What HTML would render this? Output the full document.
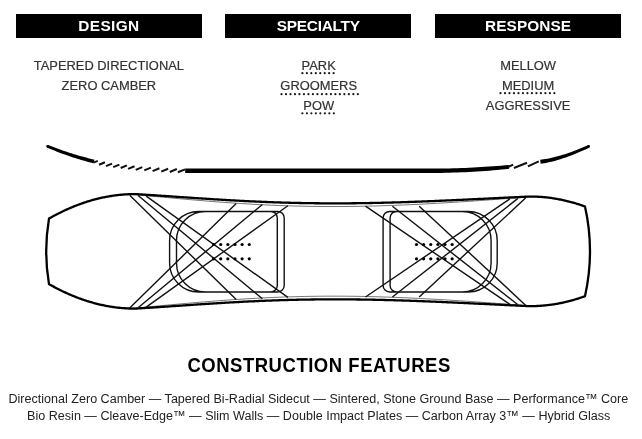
<!DOCTYPE html>
<html><head><meta charset="utf-8"><style>
*{margin:0;padding:0;box-sizing:border-box}
html,body{width:642px;height:439px;background:#fff;overflow:hidden}
body{position:relative;font-family:"Liberation Sans",sans-serif;color:#2a2a2a}
.bar{position:absolute;top:14.3px;height:23.6px;background:#000}
.t{position:absolute;text-align:center;line-height:20px;height:20px;white-space:nowrap;transform-origin:50% 0}
.u{display:inline-block;position:relative}
</style></head><body style="filter:blur(0.4px)">
<div class="bar" style="left:15.5px;width:186.5px"></div>
<div class="bar" style="left:225.4px;width:186px"></div>
<div class="bar" style="left:435.1px;width:186px"></div>
<svg width="642" height="439" viewBox="0 0 642 439" style="position:absolute;left:0;top:0">
<g fill="#000"><path d="M47.07,147.59 L49.04,148.43 L51.01,149.25 L52.99,150.06 L54.98,150.85 L56.97,151.63 L58.96,152.40 L60.96,153.15 L62.96,153.89 L64.97,154.61 L66.98,155.33 L69.00,156.02 L71.02,156.71 L73.05,157.38 L75.08,158.04 L77.11,158.68 L79.15,159.31 L81.20,159.93 L83.24,160.53 L85.30,161.12 L87.35,161.70 L89.41,162.26 L91.48,162.81 L93.54,163.34 L94.46,159.66 L92.39,159.17 L90.34,158.67 L88.29,158.15 L86.25,157.62 L84.21,157.08 L82.17,156.53 L80.14,155.96 L78.11,155.38 L76.08,154.78 L74.06,154.17 L72.05,153.55 L70.03,152.91 L68.02,152.26 L66.02,151.60 L64.01,150.92 L62.02,150.23 L60.02,149.52 L58.03,148.80 L56.04,148.07 L54.06,147.33 L52.08,146.57 L50.11,145.79 L48.13,145.01 Z"/><path d="M185.20,173.00 L189.20,173.00 L193.20,173.00 L197.20,173.00 L201.20,173.00 L205.20,173.00 L209.20,173.00 L213.20,173.00 L217.20,173.00 L221.20,173.00 L225.20,173.00 L229.20,173.00 L233.20,173.00 L237.20,173.00 L241.20,173.00 L245.20,173.00 L249.20,173.00 L253.20,173.00 L257.20,173.00 L261.20,173.00 L265.20,173.00 L269.20,173.00 L273.20,173.00 L277.20,173.00 L281.20,173.00 L285.20,173.00 L289.20,173.00 L293.20,173.00 L297.20,173.00 L301.20,173.00 L305.20,173.00 L309.20,173.00 L313.20,173.00 L317.20,173.00 L321.20,173.00 L325.20,173.00 L329.20,173.00 L333.20,173.00 L337.20,173.00 L341.20,173.00 L345.20,173.00 L349.20,173.00 L353.20,173.00 L357.20,173.00 L361.20,173.00 L365.20,173.00 L369.20,173.00 L373.20,173.00 L377.20,173.00 L381.20,173.00 L385.20,173.00 L389.20,173.00 L393.20,173.00 L397.20,173.00 L401.20,173.00 L405.20,173.00 L409.20,173.00 L413.20,173.00 L417.20,173.00 L421.20,173.00 L425.20,173.00 L429.20,173.00 L433.21,172.99 L437.22,172.97 L441.23,172.92 L445.24,172.84 L449.25,172.74 L453.26,172.61 L457.27,172.47 L461.28,172.31 L465.29,172.13 L469.30,171.93 L473.31,171.71 L477.32,171.47 L481.33,171.21 L485.34,170.93 L489.35,170.63 L493.36,170.30 L497.37,169.96 L501.38,169.60 L505.38,169.22 L509.19,168.84 L508.81,164.96 L505.02,165.31 L501.02,165.66 L497.03,165.99 L493.04,166.30 L489.05,166.59 L485.06,166.86 L481.07,167.12 L477.08,167.35 L473.09,167.56 L469.10,167.75 L465.11,167.92 L461.12,168.07 L457.13,168.20 L453.14,168.31 L449.15,168.40 L445.16,168.47 L441.17,168.53 L437.18,168.57 L433.19,168.59 L429.20,168.60 L425.20,168.60 L421.20,168.60 L417.20,168.60 L413.20,168.60 L409.20,168.60 L405.20,168.60 L401.20,168.60 L397.20,168.60 L393.20,168.60 L389.20,168.60 L385.20,168.60 L381.20,168.60 L377.20,168.60 L373.20,168.60 L369.20,168.60 L365.20,168.60 L361.20,168.60 L357.20,168.60 L353.20,168.60 L349.20,168.60 L345.20,168.60 L341.20,168.60 L337.20,168.60 L333.20,168.60 L329.20,168.60 L325.20,168.60 L321.20,168.60 L317.20,168.60 L313.20,168.60 L309.20,168.60 L305.20,168.60 L301.20,168.60 L297.20,168.60 L293.20,168.60 L289.20,168.60 L285.20,168.60 L281.20,168.60 L277.20,168.60 L273.20,168.60 L269.20,168.60 L265.20,168.60 L261.20,168.60 L257.20,168.60 L253.20,168.60 L249.20,168.60 L245.20,168.60 L241.20,168.60 L237.20,168.60 L233.20,168.60 L229.20,168.60 L225.20,168.60 L221.20,168.60 L217.20,168.60 L213.20,168.60 L209.20,168.60 L205.20,168.60 L201.20,168.60 L197.20,168.60 L193.20,168.60 L189.20,168.60 L185.20,168.60 Z"/><path d="M540.65,163.74 L542.38,163.50 L544.16,163.21 L545.98,162.89 L547.83,162.52 L549.71,162.12 L551.62,161.67 L553.56,161.18 L555.54,160.65 L557.55,160.08 L559.59,159.47 L561.67,158.81 L563.78,158.12 L565.92,157.38 L568.09,156.61 L570.30,155.79 L572.54,154.93 L574.82,154.03 L577.13,153.09 L579.47,152.11 L581.85,151.09 L584.26,150.02 L586.70,148.92 L589.17,147.78 L588.03,145.22 L585.54,146.31 L583.10,147.35 L580.69,148.35 L578.32,149.31 L575.98,150.23 L573.68,151.10 L571.42,151.94 L569.19,152.73 L567.00,153.48 L564.85,154.19 L562.73,154.86 L560.64,155.49 L558.60,156.07 L556.59,156.62 L554.62,157.12 L552.68,157.58 L550.78,158.00 L548.92,158.38 L547.10,158.72 L545.31,159.02 L543.56,159.27 L541.85,159.49 L540.15,159.66 Z"/><path d="M47.60,146.30 m-1.40,0 a1.40,1.40 0 1 0 2.80,0 a1.40,1.40 0 1 0 -2.80,0"/><path d="M588.60,146.50 m-1.40,0 a1.40,1.40 0 1 0 2.80,0 a1.40,1.40 0 1 0 -2.80,0"/></g>
<path d="M99.04,164.72 L104.96,162.28 M105.98,166.05 L112.02,163.55 M113.21,167.18 L119.39,164.62 M120.65,168.00 L126.95,165.40 M128.08,168.93 L134.52,166.27 M135.72,169.86 L142.28,167.14 M144.26,170.39 L150.94,167.61 M152.59,171.11 L159.41,168.29 M161.23,171.64 L168.17,168.76 M169.76,171.97 L176.84,169.03 M177.90,172.29 L185.10,169.31 M513.9,168.0 L527.0,162.7 M527.9,166.4 L538.8,161.4 M93.5,162.6 L97.8,160.9 M508,167 L513.2,164.6" stroke="#111" stroke-width="2.0" fill="none" stroke-linecap="butt"/>
<path d="M125.00,194.43 L127.00,194.48 L129.00,194.50 L131.00,194.52 L133.00,194.57 L135.00,194.63 L137.00,194.82 L139.00,195.01 L141.00,195.19 L143.00,195.38 L145.00,195.56 L147.00,195.75 L149.00,195.93 L151.00,196.12 L153.00,196.30 L155.00,196.48 L157.00,196.67 L159.00,196.85 L161.00,197.03 L163.00,197.22 L165.00,197.40 L167.00,197.58 L169.00,197.76 L171.00,197.94 L173.00,198.12 L175.00,198.30 L177.00,198.48 L179.00,198.66 L181.00,198.84 L183.00,199.02 L185.00,199.19 L187.00,199.37 L189.00,199.54 L191.00,199.72 L193.00,199.89 L195.00,200.06 L197.00,200.23 L199.00,200.40 L201.00,200.56 L203.00,200.73 L205.00,200.89 L207.00,201.05 L209.00,201.21 L211.00,201.37 L213.00,201.53 L215.00,201.69 L217.00,201.84 L219.00,201.99 L221.00,202.14 L223.00,202.29 L225.00,202.44 L227.00,202.58 L229.00,202.72 L231.00,202.86 L233.00,203.00 L235.00,203.13 L237.00,203.27 L239.00,203.40 L241.00,203.53 L243.00,203.65 L245.00,203.78 L247.00,203.90 L249.00,204.02 L251.00,204.13 L253.00,204.25 L255.00,204.36 L257.00,204.47 L259.00,204.57 L261.00,204.68 L263.00,204.78 L265.00,204.87 L267.00,204.97 L269.00,205.06 L271.00,205.15 L273.00,205.24 L275.00,205.33 L277.00,205.41 L279.00,205.49 L281.00,205.56 L283.00,205.64 L285.00,205.71 L287.00,205.77 L289.00,205.84 L291.00,205.90 L293.00,205.96 L295.00,206.02 L297.00,206.07 L299.00,206.12 L301.00,206.17 L303.00,206.21 L305.00,206.26 L307.00,206.29 L309.00,206.33 L311.00,206.36 L313.00,206.40 L315.00,206.42 L317.00,206.45 L319.00,206.47 L321.00,206.49 L323.00,206.51 L325.00,206.52 L327.00,206.53 L329.00,206.54 L331.00,206.54 L333.00,206.54 L335.00,206.54 L337.00,206.54 L339.00,206.54 L341.00,206.53 L343.00,206.51 L345.00,206.50 L347.00,206.48 L349.00,206.46 L351.00,206.44 L353.00,206.42 L355.00,206.39 L357.00,206.36 L359.00,206.33 L361.00,206.29 L363.00,206.25 L365.00,206.21 L367.00,206.17 L369.00,206.12 L371.00,206.08 L373.00,206.03 L375.00,205.97 L377.00,205.92 L379.00,205.86 L381.00,205.80 L383.00,205.74 L385.00,205.68 L387.00,205.61 L389.00,205.54 L391.00,205.47 L393.00,205.40 L395.00,205.32 L397.00,205.24 L399.00,205.16 L401.00,205.08 L403.00,205.00 L405.00,204.91 L407.00,204.83 L409.00,204.74 L411.00,204.64 L413.00,204.55 L415.00,204.46 L417.00,204.36 L419.00,204.26 L421.00,204.16 L423.00,204.06 L425.00,203.95 L427.00,203.85 L429.00,203.74 L431.00,203.63 L433.00,203.52 L435.00,203.41 L437.00,203.30 L439.00,203.18 L441.00,203.06 L443.00,202.95 L445.00,202.83 L447.00,202.71 L449.00,202.59 L451.00,202.46 L453.00,202.34 L455.00,202.21 L457.00,202.09 L459.00,201.96 L461.00,201.83 L463.00,201.70 L465.00,201.57 L467.00,201.43 L469.00,201.30 L471.00,201.16 L473.00,201.03 L475.00,200.89 L477.00,200.75 L479.00,200.62 L481.00,200.48 L483.00,200.34 L485.00,200.19 L487.00,200.05 L489.00,199.91 L491.00,199.76 L493.00,199.62 L495.00,199.47 L497.00,199.32 L499.00,199.18 L501.00,199.03 L503.00,198.88 L505.00,198.72 L507.00,198.57 L509.00,198.42 L511.00,198.26 L513.00,198.10 L515.00,197.94 L517.00,197.78 L519.00,197.61 L521.00,197.44 L523.00,197.27 L525.00,197.09 L527.00,196.90 L529.00,196.68 M125.00,308.27 L127.00,308.22 L129.00,308.20 L131.00,308.18 L133.00,308.13 L135.00,308.07 L137.00,307.88 L139.00,307.69 L141.00,307.51 L143.00,307.32 L145.00,307.14 L147.00,306.95 L149.00,306.77 L151.00,306.58 L153.00,306.40 L155.00,306.22 L157.00,306.03 L159.00,305.85 L161.00,305.67 L163.00,305.48 L165.00,305.30 L167.00,305.12 L169.00,304.94 L171.00,304.76 L173.00,304.58 L175.00,304.40 L177.00,304.22 L179.00,304.04 L181.00,303.86 L183.00,303.68 L185.00,303.51 L187.00,303.33 L189.00,303.16 L191.00,302.98 L193.00,302.81 L195.00,302.64 L197.00,302.47 L199.00,302.30 L201.00,302.14 L203.00,301.97 L205.00,301.81 L207.00,301.65 L209.00,301.49 L211.00,301.33 L213.00,301.17 L215.00,301.01 L217.00,300.86 L219.00,300.71 L221.00,300.56 L223.00,300.41 L225.00,300.26 L227.00,300.12 L229.00,299.98 L231.00,299.84 L233.00,299.70 L235.00,299.57 L237.00,299.43 L239.00,299.30 L241.00,299.17 L243.00,299.05 L245.00,298.92 L247.00,298.80 L249.00,298.68 L251.00,298.57 L253.00,298.45 L255.00,298.34 L257.00,298.23 L259.00,298.13 L261.00,298.02 L263.00,297.92 L265.00,297.83 L267.00,297.73 L269.00,297.64 L271.00,297.55 L273.00,297.46 L275.00,297.37 L277.00,297.29 L279.00,297.21 L281.00,297.14 L283.00,297.06 L285.00,296.99 L287.00,296.93 L289.00,296.86 L291.00,296.80 L293.00,296.74 L295.00,296.68 L297.00,296.63 L299.00,296.58 L301.00,296.53 L303.00,296.49 L305.00,296.44 L307.00,296.41 L309.00,296.37 L311.00,296.34 L313.00,296.30 L315.00,296.28 L317.00,296.25 L319.00,296.23 L321.00,296.21 L323.00,296.19 L325.00,296.18 L327.00,296.17 L329.00,296.16 L331.00,296.16 L333.00,296.16 L335.00,296.16 L337.00,296.16 L339.00,296.16 L341.00,296.17 L343.00,296.19 L345.00,296.20 L347.00,296.22 L349.00,296.24 L351.00,296.26 L353.00,296.28 L355.00,296.31 L357.00,296.34 L359.00,296.37 L361.00,296.41 L363.00,296.45 L365.00,296.49 L367.00,296.53 L369.00,296.58 L371.00,296.62 L373.00,296.67 L375.00,296.73 L377.00,296.78 L379.00,296.84 L381.00,296.90 L383.00,296.96 L385.00,297.02 L387.00,297.09 L389.00,297.16 L391.00,297.23 L393.00,297.30 L395.00,297.38 L397.00,297.46 L399.00,297.54 L401.00,297.62 L403.00,297.70 L405.00,297.79 L407.00,297.87 L409.00,297.96 L411.00,298.06 L413.00,298.15 L415.00,298.24 L417.00,298.34 L419.00,298.44 L421.00,298.54 L423.00,298.64 L425.00,298.75 L427.00,298.85 L429.00,298.96 L431.00,299.07 L433.00,299.18 L435.00,299.29 L437.00,299.40 L439.00,299.52 L441.00,299.64 L443.00,299.75 L445.00,299.87 L447.00,299.99 L449.00,300.11 L451.00,300.24 L453.00,300.36 L455.00,300.49 L457.00,300.61 L459.00,300.74 L461.00,300.87 L463.00,301.00 L465.00,301.13 L467.00,301.27 L469.00,301.40 L471.00,301.54 L473.00,301.67 L475.00,301.81 L477.00,301.95 L479.00,302.08 L481.00,302.22 L483.00,302.36 L485.00,302.51 L487.00,302.65 L489.00,302.79 L491.00,302.94 L493.00,303.08 L495.00,303.23 L497.00,303.38 L499.00,303.52 L501.00,303.67 L503.00,303.82 L505.00,303.98 L507.00,304.13 L509.00,304.28 L511.00,304.44 L513.00,304.60 L515.00,304.76 L517.00,304.92 L519.00,305.09 L521.00,305.26 L523.00,305.43 L525.00,305.61 L527.00,305.80 L529.00,306.02" fill="none" stroke="#777" stroke-width="1.0"/>
<path d="M49.00,218.58 L50.00,218.01 L51.00,217.45 L52.00,216.90 L53.00,216.35 L54.00,215.81 L55.00,215.28 L56.00,214.75 L57.00,214.23 L58.00,213.72 L59.00,213.22 L60.00,212.72 L61.00,212.22 L62.00,211.74 L63.00,211.26 L64.00,210.78 L65.00,210.32 L66.00,209.86 L67.00,209.40 L68.00,208.96 L69.00,208.51 L70.00,208.08 L71.00,207.65 L72.00,207.23 L73.00,206.82 L74.00,206.41 L75.00,206.01 L76.00,205.62 L77.00,205.23 L78.00,204.85 L79.00,204.48 L80.00,204.11 L81.00,203.75 L82.00,203.39 L83.00,203.05 L84.00,202.71 L85.00,202.37 L86.00,202.04 L87.00,201.72 L88.00,201.41 L89.00,201.10 L90.00,200.80 L91.00,200.50 L92.00,200.22 L93.00,199.94 L94.00,199.66 L95.00,199.39 L96.00,199.13 L97.00,198.88 L98.00,198.63 L99.00,198.39 L100.00,198.15 L101.00,197.92 L102.00,197.70 L103.00,197.49 L104.00,197.28 L105.00,197.08 L106.00,196.88 L107.00,196.69 L108.00,196.51 L109.00,196.33 L110.00,196.17 L111.00,196.00 L112.00,195.85 L113.00,195.70 L114.00,195.56 L115.00,195.42 L116.00,195.29 L117.00,195.17 L118.00,195.05 L119.00,194.94 L120.00,194.84 L121.00,194.75 L122.00,194.66 L123.00,194.57 L124.00,194.50 L125.00,194.43 L126.00,194.36 L127.00,194.31 L128.00,194.26 L129.00,194.22 L130.00,194.18 L131.00,194.15 L132.00,194.13 L133.00,194.11 L134.00,194.10 L135.00,194.10 L136.00,194.15 L137.00,194.21 L138.00,194.27 L139.00,194.33 L140.00,194.39 L141.00,194.45 L142.00,194.51 L143.00,194.57 L144.00,194.64 L145.00,194.70 L146.00,194.76 L147.00,194.82 L148.00,194.89 L149.00,194.95 L150.00,195.01 L151.00,195.08 L152.00,195.14 L153.00,195.21 L154.00,195.27 L155.00,195.34 L156.00,195.40 L157.00,195.47 L158.00,195.54 L159.00,195.60 L160.00,195.67 L161.00,195.73 L162.00,195.80 L163.00,195.87 L164.00,195.94 L165.00,196.00 L166.00,196.07 L167.00,196.14 L168.00,196.21 L169.00,196.27 L170.00,196.34 L171.00,196.41 L172.00,196.48 L173.00,196.55 L174.00,196.62 L175.00,196.68 L176.00,196.75 L177.00,196.82 L178.00,196.89 L179.00,196.96 L180.00,197.03 L181.00,197.09 L182.00,197.16 L183.00,197.23 L184.00,197.30 L185.00,197.37 L186.00,197.44 L187.00,197.50 L188.00,197.57 L189.00,197.64 L190.00,197.71 L191.00,197.77 L192.00,197.84 L193.00,197.91 L194.00,197.98 L195.00,198.04 L196.00,198.11 L197.00,198.18 L198.00,198.24 L199.00,198.31 L200.00,198.38 L201.00,198.44 L202.00,198.51 L203.00,198.57 L204.00,198.64 L205.00,198.70 L206.00,198.77 L207.00,198.83 L208.00,198.90 L209.00,198.96 L210.00,199.02 L211.00,199.09 L212.00,199.15 L213.00,199.21 L214.00,199.28 L215.00,199.34 L216.00,199.40 L217.00,199.46 L218.00,199.52 L219.00,199.58 L220.00,199.64 L221.00,199.70 L222.00,199.76 L223.00,199.82 L224.00,199.88 L225.00,199.94 L226.00,200.00 L227.00,200.06 L228.00,200.12 L229.00,200.17 L230.00,200.23 L231.00,200.29 L232.00,200.34 L233.00,200.40 L234.00,200.45 L235.00,200.51 L236.00,200.56 L237.00,200.62 L238.00,200.67 L239.00,200.72 L240.00,200.78 L241.00,200.83 L242.00,200.88 L243.00,200.93 L244.00,200.98 L245.00,201.03 L246.00,201.08 L247.00,201.13 L248.00,201.18 L249.00,201.23 L250.00,201.28 L251.00,201.33 L252.00,201.37 L253.00,201.42 L254.00,201.47 L255.00,201.51 L256.00,201.56 L257.00,201.60 L258.00,201.64 L259.00,201.69 L260.00,201.73 L261.00,201.77 L262.00,201.82 L263.00,201.86 L264.00,201.90 L265.00,201.94 L266.00,201.98 L267.00,202.02 L268.00,202.06 L269.00,202.09 L270.00,202.13 L271.00,202.17 L272.00,202.20 L273.00,202.24 L274.00,202.28 L275.00,202.31 L276.00,202.34 L277.00,202.38 L278.00,202.41 L279.00,202.44 L280.00,202.48 L281.00,202.51 L282.00,202.54 L283.00,202.57 L284.00,202.60 L285.00,202.63 L286.00,202.66 L287.00,202.68 L288.00,202.71 L289.00,202.74 L290.00,202.77 L291.00,202.79 L292.00,202.82 L293.00,202.84 L294.00,202.86 L295.00,202.89 L296.00,202.91 L297.00,202.93 L298.00,202.95 L299.00,202.98 L300.00,203.00 L301.00,203.02 L302.00,203.04 L303.00,203.05 L304.00,203.07 L305.00,203.09 L306.00,203.11 L307.00,203.12 L308.00,203.14 L309.00,203.15 L310.00,203.17 L311.00,203.18 L312.00,203.20 L313.00,203.21 L314.00,203.22 L315.00,203.23 L316.00,203.24 L317.00,203.26 L318.00,203.27 L319.00,203.27 L320.00,203.28 L321.00,203.29 L322.00,203.30 L323.00,203.31 L324.00,203.31 L325.00,203.32 L326.00,203.32 L327.00,203.33 L328.00,203.33 L329.00,203.34 L330.00,203.34 L331.00,203.34 L332.00,203.35 L333.00,203.35 L334.00,203.35 L335.00,203.35 L336.00,203.35 L337.00,203.35 L338.00,203.35 L339.00,203.34 L340.00,203.34 L341.00,203.34 L342.00,203.34 L343.00,203.33 L344.00,203.33 L345.00,203.32 L346.00,203.32 L347.00,203.31 L348.00,203.30 L349.00,203.30 L350.00,203.29 L351.00,203.28 L352.00,203.27 L353.00,203.26 L354.00,203.25 L355.00,203.24 L356.00,203.23 L357.00,203.22 L358.00,203.21 L359.00,203.19 L360.00,203.18 L361.00,203.17 L362.00,203.15 L363.00,203.14 L364.00,203.12 L365.00,203.11 L366.00,203.09 L367.00,203.08 L368.00,203.06 L369.00,203.04 L370.00,203.02 L371.00,203.00 L372.00,202.99 L373.00,202.97 L374.00,202.95 L375.00,202.93 L376.00,202.91 L377.00,202.88 L378.00,202.86 L379.00,202.84 L380.00,202.82 L381.00,202.79 L382.00,202.77 L383.00,202.75 L384.00,202.72 L385.00,202.70 L386.00,202.67 L387.00,202.65 L388.00,202.62 L389.00,202.59 L390.00,202.57 L391.00,202.54 L392.00,202.51 L393.00,202.48 L394.00,202.46 L395.00,202.43 L396.00,202.40 L397.00,202.37 L398.00,202.34 L399.00,202.31 L400.00,202.28 L401.00,202.25 L402.00,202.21 L403.00,202.18 L404.00,202.15 L405.00,202.12 L406.00,202.08 L407.00,202.05 L408.00,202.02 L409.00,201.98 L410.00,201.95 L411.00,201.91 L412.00,201.88 L413.00,201.84 L414.00,201.81 L415.00,201.77 L416.00,201.73 L417.00,201.70 L418.00,201.66 L419.00,201.62 L420.00,201.59 L421.00,201.55 L422.00,201.51 L423.00,201.47 L424.00,201.43 L425.00,201.39 L426.00,201.35 L427.00,201.31 L428.00,201.27 L429.00,201.23 L430.00,201.19 L431.00,201.15 L432.00,201.11 L433.00,201.07 L434.00,201.03 L435.00,200.99 L436.00,200.94 L437.00,200.90 L438.00,200.86 L439.00,200.82 L440.00,200.77 L441.00,200.73 L442.00,200.69 L443.00,200.64 L444.00,200.60 L445.00,200.56 L446.00,200.51 L447.00,200.47 L448.00,200.42 L449.00,200.38 L450.00,200.33 L451.00,200.29 L452.00,200.24 L453.00,200.20 L454.00,200.15 L455.00,200.11 L456.00,200.06 L457.00,200.02 L458.00,199.97 L459.00,199.92 L460.00,199.88 L461.00,199.83 L462.00,199.78 L463.00,199.74 L464.00,199.69 L465.00,199.64 L466.00,199.60 L467.00,199.55 L468.00,199.50 L469.00,199.45 L470.00,199.41 L471.00,199.36 L472.00,199.31 L473.00,199.26 L474.00,199.21 L475.00,199.17 L476.00,199.12 L477.00,199.07 L478.00,199.02 L479.00,198.97 L480.00,198.93 L481.00,198.88 L482.00,198.83 L483.00,198.78 L484.00,198.73 L485.00,198.68 L486.00,198.64 L487.00,198.59 L488.00,198.54 L489.00,198.49 L490.00,198.44 L491.00,198.39 L492.00,198.34 L493.00,198.30 L494.00,198.25 L495.00,198.20 L496.00,198.15 L497.00,198.10 L498.00,198.05 L499.00,198.00 L500.00,197.96 L501.00,197.91 L502.00,197.86 L503.00,197.81 L504.00,197.76 L505.00,197.71 L506.00,197.66 L507.00,197.62 L508.00,197.57 L509.00,197.52 L510.00,197.47 L511.00,197.42 L512.00,197.38 L513.00,197.33 L514.00,197.28 L515.00,197.23 L516.00,197.19 L517.00,197.14 L518.00,197.09 L519.00,197.04 L520.00,197.00 L521.00,196.95 L522.00,196.90 L523.00,196.85 L524.00,196.81 L525.00,196.76 L526.00,196.71 L527.00,196.67 L528.00,196.62 L529.00,196.58 L530.00,196.53 L531.00,196.53 L532.00,196.54 L533.00,196.56 L534.00,196.58 L535.00,196.61 L536.00,196.65 L537.00,196.69 L538.00,196.74 L539.00,196.80 L540.00,196.86 L541.00,196.93 L542.00,197.00 L543.00,197.09 L544.00,197.18 L545.00,197.27 L546.00,197.37 L547.00,197.48 L548.00,197.60 L549.00,197.72 L550.00,197.85 L551.00,197.98 L552.00,198.13 L553.00,198.27 L554.00,198.43 L555.00,198.59 L556.00,198.76 L557.00,198.93 L558.00,199.12 L559.00,199.30 L560.00,199.50 L561.00,199.70 L562.00,199.91 L563.00,200.12 L564.00,200.34 L565.00,200.57 L566.00,200.81 L567.00,201.05 L568.00,201.29 L569.00,201.55 L570.00,201.81 L571.00,202.08 L572.00,202.35 L573.00,202.63 L574.00,202.92 L575.00,203.21 L576.00,203.51 L577.00,203.82 L578.00,204.13 L579.00,204.45 L580.00,204.78 L581.00,205.11 L582.00,205.45 L583.00,205.80 L584.00,206.15 L585.00,206.51 Q595.00,251.35 585.00,296.19 L585.00,296.19 L584.00,296.55 L583.00,296.90 L582.00,297.25 L581.00,297.59 L580.00,297.92 L579.00,298.25 L578.00,298.57 L577.00,298.88 L576.00,299.19 L575.00,299.49 L574.00,299.78 L573.00,300.07 L572.00,300.35 L571.00,300.62 L570.00,300.89 L569.00,301.15 L568.00,301.41 L567.00,301.65 L566.00,301.89 L565.00,302.13 L564.00,302.36 L563.00,302.58 L562.00,302.79 L561.00,303.00 L560.00,303.20 L559.00,303.40 L558.00,303.58 L557.00,303.77 L556.00,303.94 L555.00,304.11 L554.00,304.27 L553.00,304.43 L552.00,304.57 L551.00,304.72 L550.00,304.85 L549.00,304.98 L548.00,305.10 L547.00,305.22 L546.00,305.33 L545.00,305.43 L544.00,305.52 L543.00,305.61 L542.00,305.70 L541.00,305.77 L540.00,305.84 L539.00,305.90 L538.00,305.96 L537.00,306.01 L536.00,306.05 L535.00,306.09 L534.00,306.12 L533.00,306.14 L532.00,306.16 L531.00,306.17 L530.00,306.17 L529.00,306.12 L528.00,306.08 L527.00,306.03 L526.00,305.99 L525.00,305.94 L524.00,305.89 L523.00,305.85 L522.00,305.80 L521.00,305.75 L520.00,305.70 L519.00,305.66 L518.00,305.61 L517.00,305.56 L516.00,305.51 L515.00,305.47 L514.00,305.42 L513.00,305.37 L512.00,305.32 L511.00,305.28 L510.00,305.23 L509.00,305.18 L508.00,305.13 L507.00,305.08 L506.00,305.04 L505.00,304.99 L504.00,304.94 L503.00,304.89 L502.00,304.84 L501.00,304.79 L500.00,304.74 L499.00,304.70 L498.00,304.65 L497.00,304.60 L496.00,304.55 L495.00,304.50 L494.00,304.45 L493.00,304.40 L492.00,304.36 L491.00,304.31 L490.00,304.26 L489.00,304.21 L488.00,304.16 L487.00,304.11 L486.00,304.06 L485.00,304.02 L484.00,303.97 L483.00,303.92 L482.00,303.87 L481.00,303.82 L480.00,303.77 L479.00,303.73 L478.00,303.68 L477.00,303.63 L476.00,303.58 L475.00,303.53 L474.00,303.49 L473.00,303.44 L472.00,303.39 L471.00,303.34 L470.00,303.29 L469.00,303.25 L468.00,303.20 L467.00,303.15 L466.00,303.10 L465.00,303.06 L464.00,303.01 L463.00,302.96 L462.00,302.92 L461.00,302.87 L460.00,302.82 L459.00,302.78 L458.00,302.73 L457.00,302.68 L456.00,302.64 L455.00,302.59 L454.00,302.55 L453.00,302.50 L452.00,302.46 L451.00,302.41 L450.00,302.37 L449.00,302.32 L448.00,302.28 L447.00,302.23 L446.00,302.19 L445.00,302.14 L444.00,302.10 L443.00,302.06 L442.00,302.01 L441.00,301.97 L440.00,301.93 L439.00,301.88 L438.00,301.84 L437.00,301.80 L436.00,301.76 L435.00,301.71 L434.00,301.67 L433.00,301.63 L432.00,301.59 L431.00,301.55 L430.00,301.51 L429.00,301.47 L428.00,301.43 L427.00,301.39 L426.00,301.35 L425.00,301.31 L424.00,301.27 L423.00,301.23 L422.00,301.19 L421.00,301.15 L420.00,301.11 L419.00,301.08 L418.00,301.04 L417.00,301.00 L416.00,300.97 L415.00,300.93 L414.00,300.89 L413.00,300.86 L412.00,300.82 L411.00,300.79 L410.00,300.75 L409.00,300.72 L408.00,300.68 L407.00,300.65 L406.00,300.62 L405.00,300.58 L404.00,300.55 L403.00,300.52 L402.00,300.49 L401.00,300.45 L400.00,300.42 L399.00,300.39 L398.00,300.36 L397.00,300.33 L396.00,300.30 L395.00,300.27 L394.00,300.24 L393.00,300.22 L392.00,300.19 L391.00,300.16 L390.00,300.13 L389.00,300.11 L388.00,300.08 L387.00,300.05 L386.00,300.03 L385.00,300.00 L384.00,299.98 L383.00,299.95 L382.00,299.93 L381.00,299.91 L380.00,299.88 L379.00,299.86 L378.00,299.84 L377.00,299.82 L376.00,299.79 L375.00,299.77 L374.00,299.75 L373.00,299.73 L372.00,299.71 L371.00,299.70 L370.00,299.68 L369.00,299.66 L368.00,299.64 L367.00,299.62 L366.00,299.61 L365.00,299.59 L364.00,299.58 L363.00,299.56 L362.00,299.55 L361.00,299.53 L360.00,299.52 L359.00,299.51 L358.00,299.49 L357.00,299.48 L356.00,299.47 L355.00,299.46 L354.00,299.45 L353.00,299.44 L352.00,299.43 L351.00,299.42 L350.00,299.41 L349.00,299.40 L348.00,299.40 L347.00,299.39 L346.00,299.38 L345.00,299.38 L344.00,299.37 L343.00,299.37 L342.00,299.36 L341.00,299.36 L340.00,299.36 L339.00,299.36 L338.00,299.35 L337.00,299.35 L336.00,299.35 L335.00,299.35 L334.00,299.35 L333.00,299.35 L332.00,299.35 L331.00,299.36 L330.00,299.36 L329.00,299.36 L328.00,299.37 L327.00,299.37 L326.00,299.38 L325.00,299.38 L324.00,299.39 L323.00,299.39 L322.00,299.40 L321.00,299.41 L320.00,299.42 L319.00,299.43 L318.00,299.43 L317.00,299.44 L316.00,299.46 L315.00,299.47 L314.00,299.48 L313.00,299.49 L312.00,299.50 L311.00,299.52 L310.00,299.53 L309.00,299.55 L308.00,299.56 L307.00,299.58 L306.00,299.59 L305.00,299.61 L304.00,299.63 L303.00,299.65 L302.00,299.66 L301.00,299.68 L300.00,299.70 L299.00,299.72 L298.00,299.75 L297.00,299.77 L296.00,299.79 L295.00,299.81 L294.00,299.84 L293.00,299.86 L292.00,299.88 L291.00,299.91 L290.00,299.93 L289.00,299.96 L288.00,299.99 L287.00,300.02 L286.00,300.04 L285.00,300.07 L284.00,300.10 L283.00,300.13 L282.00,300.16 L281.00,300.19 L280.00,300.22 L279.00,300.26 L278.00,300.29 L277.00,300.32 L276.00,300.36 L275.00,300.39 L274.00,300.42 L273.00,300.46 L272.00,300.50 L271.00,300.53 L270.00,300.57 L269.00,300.61 L268.00,300.64 L267.00,300.68 L266.00,300.72 L265.00,300.76 L264.00,300.80 L263.00,300.84 L262.00,300.88 L261.00,300.93 L260.00,300.97 L259.00,301.01 L258.00,301.06 L257.00,301.10 L256.00,301.14 L255.00,301.19 L254.00,301.23 L253.00,301.28 L252.00,301.33 L251.00,301.37 L250.00,301.42 L249.00,301.47 L248.00,301.52 L247.00,301.57 L246.00,301.62 L245.00,301.67 L244.00,301.72 L243.00,301.77 L242.00,301.82 L241.00,301.87 L240.00,301.92 L239.00,301.98 L238.00,302.03 L237.00,302.08 L236.00,302.14 L235.00,302.19 L234.00,302.25 L233.00,302.30 L232.00,302.36 L231.00,302.41 L230.00,302.47 L229.00,302.53 L228.00,302.58 L227.00,302.64 L226.00,302.70 L225.00,302.76 L224.00,302.82 L223.00,302.88 L222.00,302.94 L221.00,303.00 L220.00,303.06 L219.00,303.12 L218.00,303.18 L217.00,303.24 L216.00,303.30 L215.00,303.36 L214.00,303.42 L213.00,303.49 L212.00,303.55 L211.00,303.61 L210.00,303.68 L209.00,303.74 L208.00,303.80 L207.00,303.87 L206.00,303.93 L205.00,304.00 L204.00,304.06 L203.00,304.13 L202.00,304.19 L201.00,304.26 L200.00,304.32 L199.00,304.39 L198.00,304.46 L197.00,304.52 L196.00,304.59 L195.00,304.66 L194.00,304.72 L193.00,304.79 L192.00,304.86 L191.00,304.93 L190.00,304.99 L189.00,305.06 L188.00,305.13 L187.00,305.20 L186.00,305.26 L185.00,305.33 L184.00,305.40 L183.00,305.47 L182.00,305.54 L181.00,305.61 L180.00,305.67 L179.00,305.74 L178.00,305.81 L177.00,305.88 L176.00,305.95 L175.00,306.02 L174.00,306.08 L173.00,306.15 L172.00,306.22 L171.00,306.29 L170.00,306.36 L169.00,306.43 L168.00,306.49 L167.00,306.56 L166.00,306.63 L165.00,306.70 L164.00,306.76 L163.00,306.83 L162.00,306.90 L161.00,306.97 L160.00,307.03 L159.00,307.10 L158.00,307.16 L157.00,307.23 L156.00,307.30 L155.00,307.36 L154.00,307.43 L153.00,307.49 L152.00,307.56 L151.00,307.62 L150.00,307.69 L149.00,307.75 L148.00,307.81 L147.00,307.88 L146.00,307.94 L145.00,308.00 L144.00,308.06 L143.00,308.13 L142.00,308.19 L141.00,308.25 L140.00,308.31 L139.00,308.37 L138.00,308.43 L137.00,308.49 L136.00,308.55 L135.00,308.60 L134.00,308.60 L133.00,308.59 L132.00,308.57 L131.00,308.55 L130.00,308.52 L129.00,308.48 L128.00,308.44 L127.00,308.39 L126.00,308.34 L125.00,308.27 L124.00,308.20 L123.00,308.13 L122.00,308.04 L121.00,307.95 L120.00,307.86 L119.00,307.76 L118.00,307.65 L117.00,307.53 L116.00,307.41 L115.00,307.28 L114.00,307.14 L113.00,307.00 L112.00,306.85 L111.00,306.70 L110.00,306.53 L109.00,306.37 L108.00,306.19 L107.00,306.01 L106.00,305.82 L105.00,305.62 L104.00,305.42 L103.00,305.21 L102.00,305.00 L101.00,304.78 L100.00,304.55 L99.00,304.31 L98.00,304.07 L97.00,303.82 L96.00,303.57 L95.00,303.31 L94.00,303.04 L93.00,302.76 L92.00,302.48 L91.00,302.20 L90.00,301.90 L89.00,301.60 L88.00,301.29 L87.00,300.98 L86.00,300.66 L85.00,300.33 L84.00,299.99 L83.00,299.65 L82.00,299.31 L81.00,298.95 L80.00,298.59 L79.00,298.22 L78.00,297.85 L77.00,297.47 L76.00,297.08 L75.00,296.69 L74.00,296.29 L73.00,295.88 L72.00,295.47 L71.00,295.05 L70.00,294.62 L69.00,294.19 L68.00,293.74 L67.00,293.30 L66.00,292.84 L65.00,292.38 L64.00,291.92 L63.00,291.44 L62.00,290.96 L61.00,290.48 L60.00,289.98 L59.00,289.48 L58.00,288.98 L57.00,288.47 L56.00,287.95 L55.00,287.42 L54.00,286.89 L53.00,286.35 L52.00,285.80 L51.00,285.25 L50.00,284.69 L49.00,284.12 Q43.40,251.35 49.00,218.58 Z" fill="none" stroke="#000" stroke-width="2.3"/>
<path d="M198.60,211.45 H270.80 A6.50,6.50 0 0 1 277.30,217.95 V285.50 A6.50,6.50 0 0 1 270.80,292.00 H198.60 A29.00,29.00 0 0 1 169.60,263.00 V240.45 A29.00,29.00 0 0 1 198.60,211.45 Z M205.50,211.45 H277.70 A6.50,6.50 0 0 1 284.20,217.95 V285.50 A6.50,6.50 0 0 1 277.70,292.00 H205.50 A29.00,29.00 0 0 1 176.50,263.00 V240.45 A29.00,29.00 0 0 1 205.50,211.45 Z M389.60,211.45 H462.10 A29.00,29.00 0 0 1 491.10,240.45 V263.00 A29.00,29.00 0 0 1 462.10,292.00 H389.60 A6.50,6.50 0 0 1 383.10,285.50 V217.95 A6.50,6.50 0 0 1 389.60,211.45 Z M396.60,211.45 H468.20 A29.00,29.00 0 0 1 497.20,240.45 V263.00 A29.00,29.00 0 0 1 468.20,292.00 H396.60 A6.50,6.50 0 0 1 390.10,285.50 V217.95 A6.50,6.50 0 0 1 396.60,211.45 Z" fill="none" stroke="#111" stroke-width="1.4"/>
<path d="M129.70,195.20 L236.20,299.60 M129.70,308.00 L236.20,203.60 M138.10,195.50 L262.40,298.70 M138.10,307.70 L262.40,204.50 M146.20,196.10 L287.90,297.40 M146.20,307.10 L287.90,205.80 M365.50,206.20 L509.90,304.30 M365.50,297.00 L509.90,198.90 M392.40,206.20 L517.90,304.80 M392.40,297.00 L517.90,198.40 M419.20,206.20 L525.80,305.40 M419.20,297.00 L525.80,197.80" fill="none" stroke="#111" stroke-width="1.4"/>
<g fill="#000"><circle cx="213.60" cy="244.50" r="1.60"/><circle cx="213.60" cy="258.80" r="1.60"/><circle cx="220.73" cy="244.50" r="1.60"/><circle cx="220.73" cy="258.80" r="1.60"/><circle cx="227.86" cy="244.50" r="1.60"/><circle cx="227.86" cy="258.80" r="1.60"/><circle cx="234.99" cy="244.50" r="1.60"/><circle cx="234.99" cy="258.80" r="1.60"/><circle cx="242.12" cy="244.50" r="1.60"/><circle cx="242.12" cy="258.80" r="1.60"/><circle cx="249.25" cy="244.50" r="1.60"/><circle cx="249.25" cy="258.80" r="1.60"/><circle cx="416.50" cy="244.50" r="1.60"/><circle cx="416.50" cy="258.80" r="1.60"/><circle cx="423.63" cy="244.50" r="1.60"/><circle cx="423.63" cy="258.80" r="1.60"/><circle cx="430.76" cy="244.50" r="1.60"/><circle cx="430.76" cy="258.80" r="1.60"/><circle cx="437.89" cy="244.50" r="1.60"/><circle cx="437.89" cy="258.80" r="1.60"/><circle cx="445.02" cy="244.50" r="1.60"/><circle cx="445.02" cy="258.80" r="1.60"/><circle cx="452.15" cy="244.50" r="1.60"/><circle cx="452.15" cy="258.80" r="1.60"/></g>
<g fill="#1a1a1a"><circle cx="302.40" cy="73.20" r="1.10"/><circle cx="306.86" cy="73.20" r="1.10"/><circle cx="311.32" cy="73.20" r="1.10"/><circle cx="315.78" cy="73.20" r="1.10"/><circle cx="320.24" cy="73.20" r="1.10"/><circle cx="324.70" cy="73.20" r="1.10"/><circle cx="329.16" cy="73.20" r="1.10"/><circle cx="333.62" cy="73.20" r="1.10"/><circle cx="281.50" cy="94.20" r="1.10"/><circle cx="285.99" cy="94.20" r="1.10"/><circle cx="290.48" cy="94.20" r="1.10"/><circle cx="294.97" cy="94.20" r="1.10"/><circle cx="299.46" cy="94.20" r="1.10"/><circle cx="303.95" cy="94.20" r="1.10"/><circle cx="308.44" cy="94.20" r="1.10"/><circle cx="312.93" cy="94.20" r="1.10"/><circle cx="317.42" cy="94.20" r="1.10"/><circle cx="321.91" cy="94.20" r="1.10"/><circle cx="326.40" cy="94.20" r="1.10"/><circle cx="330.89" cy="94.20" r="1.10"/><circle cx="335.38" cy="94.20" r="1.10"/><circle cx="339.87" cy="94.20" r="1.10"/><circle cx="344.36" cy="94.20" r="1.10"/><circle cx="348.85" cy="94.20" r="1.10"/><circle cx="353.34" cy="94.20" r="1.10"/><circle cx="357.83" cy="94.20" r="1.10"/><circle cx="302.40" cy="113.30" r="1.10"/><circle cx="306.89" cy="113.30" r="1.10"/><circle cx="311.38" cy="113.30" r="1.10"/><circle cx="315.87" cy="113.30" r="1.10"/><circle cx="320.36" cy="113.30" r="1.10"/><circle cx="324.85" cy="113.30" r="1.10"/><circle cx="329.34" cy="113.30" r="1.10"/><circle cx="333.83" cy="113.30" r="1.10"/><circle cx="500.50" cy="93.20" r="1.10"/><circle cx="504.99" cy="93.20" r="1.10"/><circle cx="509.48" cy="93.20" r="1.10"/><circle cx="513.97" cy="93.20" r="1.10"/><circle cx="518.46" cy="93.20" r="1.10"/><circle cx="522.95" cy="93.20" r="1.10"/><circle cx="527.44" cy="93.20" r="1.10"/><circle cx="531.93" cy="93.20" r="1.10"/><circle cx="536.42" cy="93.20" r="1.10"/><circle cx="540.91" cy="93.20" r="1.10"/><circle cx="545.40" cy="93.20" r="1.10"/><circle cx="549.89" cy="93.20" r="1.10"/><circle cx="554.38" cy="93.20" r="1.10"/></g>
</svg>
<div class="t" style="-webkit-text-stroke:0px #fff;letter-spacing:0.38px;left:18.94px;width:180px;top:15px;font-size:15.4px;font-weight:bold;color:#fff;transform:translateY(0.96px) scaleY(1.0);transform-origin:50% 15.34px;">DESIGN</div><div class="t" style="-webkit-text-stroke:0px #fff;letter-spacing:-0.27px;left:228.26px;width:180px;top:15px;font-size:15.4px;font-weight:bold;color:#fff;transform:translateY(0.96px) scaleY(1.0);transform-origin:50% 15.34px;">SPECIALTY</div><div class="t" style="-webkit-text-stroke:0px #fff;letter-spacing:0.06px;left:438.08px;width:180px;top:15px;font-size:15.4px;font-weight:bold;color:#fff;transform:translateY(0.96px) scaleY(1.0);transform-origin:50% 15.34px;">RESPONSE</div><div class="t" style="-webkit-text-stroke:0.2px #333;left:8.90px;width:200px;top:56px;font-size:12.9px;font-weight:normal;color:#333;transform:translateY(0.13px) scaleY(1.0);transform-origin:50% 14.47px;">TAPERED DIRECTIONAL</div><div class="t" style="-webkit-text-stroke:0.2px #333;left:8.90px;width:200px;top:75px;font-size:12.9px;font-weight:normal;color:#333;transform:translateY(0.98px) scaleY(1.0);transform-origin:50% 14.47px;">ZERO CAMBER</div><div class="t" style="-webkit-text-stroke:0.2px #333;left:218.70px;width:200px;top:56px;font-size:12.9px;font-weight:normal;color:#333;transform:translateY(0.13px) scaleY(1.0);transform-origin:50% 14.47px;"><span class="u">PARK</span></div><div class="t" style="-webkit-text-stroke:0.2px #333;left:218.70px;width:200px;top:75px;font-size:12.9px;font-weight:normal;color:#333;transform:translateY(0.98px) scaleY(1.0);transform-origin:50% 14.47px;"><span class="u">GROOMERS</span></div><div class="t" style="-webkit-text-stroke:0.2px #333;left:218.70px;width:200px;top:95px;font-size:12.9px;font-weight:normal;color:#333;transform:translateY(0.83px) scaleY(1.0);transform-origin:50% 14.47px;"><span class="u">POW</span></div><div class="t" style="-webkit-text-stroke:0.2px #333;left:428.10px;width:200px;top:56px;font-size:12.9px;font-weight:normal;color:#333;transform:translateY(0.13px) scaleY(1.0);transform-origin:50% 14.47px;">MELLOW</div><div class="t" style="-webkit-text-stroke:0.2px #333;left:428.10px;width:200px;top:75px;font-size:12.9px;font-weight:normal;color:#333;transform:translateY(0.98px) scaleY(1.0);transform-origin:50% 14.47px;"><span class="u">MEDIUM</span></div><div class="t" style="-webkit-text-stroke:0.2px #333;left:428.10px;width:200px;top:95px;font-size:12.9px;font-weight:normal;color:#333;transform:translateY(0.83px) scaleY(1.0);transform-origin:50% 14.47px;">AGGRESSIVE</div><div class="t" style="-webkit-text-stroke:0px #000;letter-spacing:0.52px;left:19.11px;width:600px;top:356px;font-size:18.5px;font-weight:bold;color:#000;transform:translateY(0.39px) scaleY(1.1);transform-origin:50% 16.41px;">CONSTRUCTION FEATURES</div><div class="t" style="left:-11.65px;width:660px;top:388px;font-size:12.57px;font-weight:normal;color:#222;transform:translateY(0.84px) scaleY(1.055);transform-origin:50% 14.36px;">Directional Zero Camber — Tapered Bi-Radial Sidecut — Sintered, Stone Ground Base — Performance™ Core</div><div class="t" style="left:-11.30px;width:660px;top:406px;font-size:12.57px;font-weight:normal;color:#222;transform:translateY(0.44px) scaleY(1.055);transform-origin:50% 14.36px;">Bio Resin — Cleave-Edge™ — Slim Walls — Double Impact Plates — Carbon Array 3™ — Hybrid Glass</div>
</body></html>
